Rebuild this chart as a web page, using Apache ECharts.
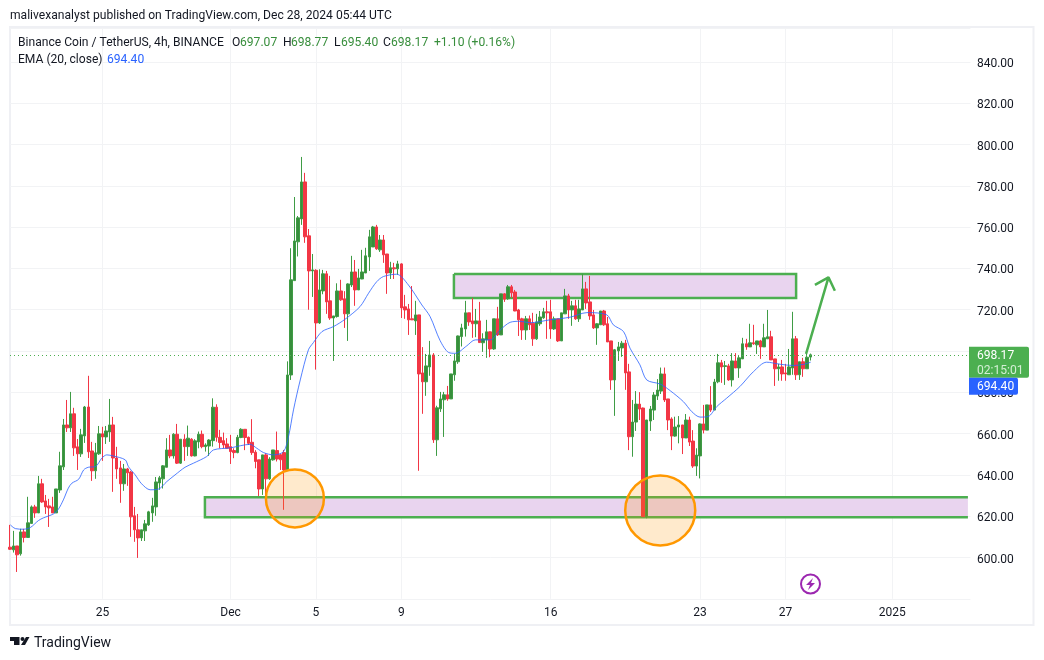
<!DOCTYPE html>
<html><head><meta charset="utf-8">
<script src="https://cdn.jsdelivr.net/npm/echarts@6/dist/echarts.min.js"></script>
<style>html,body{margin:0;padding:0;background:#fff}#c{width:1044px;height:660px}</style>
</head><body><div id="c"></div>
<script>
const opens=[605,
603.7,605.6,601.8,612.4,609.7,616.5,624.5,621.6,635.7,627.4,
625,624.5,621.6,632.7,643.9,664.2,662.8,669.6,653.6,650.2,
658.9,672.9,651.6,642,650.2,659.9,658.4,660.8,664.2,648.2,
643.4,635.7,642.9,641.4,620.2,613.4,609.5,612.9,615.8,621.6,
624.5,636.1,638.1,643.7,652.1,649.2,659.7,645.7,657.3,653.7,
657.3,649.2,656,659.7,653.7,654,656.6,672.8,658.2,656.6,
655,653.7,651.8,650.8,658.1,662.1,658.2,655.8,651,647.3,
633.2,649.7,638.1,647.3,651.8,649.8,650.8,642.4,688.4,734.1,
752.9,764,781.9,755.8,738.8,739.1,713.6,729.1,737.4,724.3,
716,716.7,729.1,725.3,718,732,738.3,729.6,734.9,737.8,
745.6,750.4,760.1,749,753.8,747,737.8,740.3,739.8,742.2,
721.4,720.4,715.6,714.6,717.5,689.4,685.1,692.3,698.1,657,
672,676.4,678.8,676.8,688.5,694.8,707,710.7,718.5,714.6,
713.2,714.6,704,705.4,709.3,701,715.6,707.8,727.7,725.3,
731.1,728.6,719.9,715.6,710.2,715.6,713.5,705.9,713.2,716.1,
719,719,710.7,715.6,704.9,718,726.7,719.9,721.9,715.6,
719.9,730.1,723.8,717.5,711.2,712.7,719.4,713.2,704.9,686,
700.1,701.5,703.8,689.9,658.5,665.6,674.3,672.4,619.8,666.1,
671.4,678.2,680.6,688.9,676.8,667.1,658.8,663.2,664.2,657.9,
666.6,656.4,644.3,649.2,664.7,661.7,673.9,671.4,685.1,694.3,
692.5,692.8,686,695.2,691.8,696.2,703.5,702,704,703,
704.9,702,705.9,706.9,696.2,691.4,692.3,689.4,688.5,691.8,
705.9,688.5,694.8,691.4,697.07];
const closes=[604,
605.6,601.3,612.4,609.7,616.8,624.5,621.6,635.7,626.9,624.5,
624,621.6,633.2,644.4,664.2,662.8,669.6,653.1,650.2,659.4,
672.9,651.2,642,650.7,659.9,658.4,661.3,664.2,648.2,642.9,
635.7,642.9,641,619.7,613.4,609.5,613.4,616.3,622.1,625,
636.6,638.6,644.4,652.1,649.2,659.7,645.7,657.3,653.7,657.8,
649.2,656.5,659.7,653.7,654.5,656.9,672.8,658.2,655.7,654.5,
652.9,651.3,650.8,658.2,662.1,658.1,655.3,650.8,646.5,633.2,
649.7,638.1,647.7,652.1,647.7,647.3,642.4,688.4,734.5,753.3,
764.5,781.9,755.3,738.8,739.3,713.6,729.6,737.4,723.8,716,
717,729.1,724.8,718,732.5,738.3,729.6,735.4,738.3,746.1,
755.3,760.1,749.5,753.8,746.6,737.8,740.3,739.8,742.2,720.9,
719.9,715.1,715.1,717.5,688.9,685.1,692.8,698.1,657,672.5,
676.8,678.8,676.8,688.9,695.2,707.3,711.2,718.5,714.1,713.2,
714.6,704.1,705.9,709.3,701,715.6,707.8,727.7,725.1,731.1,
728.2,719.4,715.1,710.2,715.6,712.7,705.9,714.1,716.5,719,
718.5,710.7,715.6,704.9,718.5,726.7,719.9,721.9,715.6,720.4,
730.1,723.3,717,711.2,713.2,719.4,712.7,704.4,686,700.6,
702,703.8,689.4,658.5,665.6,674.3,671.9,619.8,666.6,671.9,
678.7,681.1,688.9,676.3,666.6,658.8,663.2,664.2,657.9,666.6,
655.9,644.3,649.6,664.7,661.7,673.9,671.4,685,694.3,692.3,
692.9,686,695.2,691.8,696.7,703.5,702,704,703.5,704.9,
702,706.4,706.9,695.7,691.4,692.3,688.9,688.9,692.3,705.9,
688.5,694.8,691.4,697,698.17];
const lows=[603.7,
602.4,593,600.9,607.3,609.7,616.5,619.2,621.6,626.5,621.1,
614.8,621.6,621.6,631.3,642.4,660.8,660.8,649.2,642.4,648.7,
655.5,648.2,637.1,638.1,649.7,646.8,655,656,631.8,638.1,
626.5,632.3,634.7,610,607.6,599.8,608,608,615.3,617.3,
620.2,632.8,633.4,643.7,648.1,647.9,645.3,645.3,646.8,649.2,
648.9,649,652.9,652.9,651.3,649.2,653.7,656.1,652.9,652.9,
652.9,645.3,648.1,650.5,657.8,652,654.5,649.7,643.2,629.8,
630.3,627.9,637.6,646.9,646.5,642.4,623.1,642.4,686,734.1,
745.8,761.1,752.4,720,726.2,691,713.1,727.5,718,715.1,
695.2,716.2,724.3,711.2,704.9,731,721.9,729.6,734.8,737.8,
738.8,750.4,749,748,742.7,727.7,734.9,734.9,736.9,716,
715.6,707.8,715,707.8,642,669.6,678.3,688,655.5,649.2,
670.5,658.4,675.9,676.8,685.6,693.8,702.2,707,712.2,706.4,
706.7,704.1,699.6,696.7,697,700.6,707.3,707.8,723.8,724.8,
725.7,719.3,707.3,705.4,705.4,710.2,702.5,705.4,712.2,715.6,
705.9,705.9,710.2,704.4,704.9,718,715.6,712.2,715.1,714.1,
719.9,720.4,715.1,710.7,703,712.7,712.2,704.4,681.2,668.6,
695.2,697.2,681.2,652,648.8,661.3,666.6,619.8,619,661.3,
666.6,676.3,679.2,675.3,661.7,652,658.5,655.3,650.1,657.9,
654,643.4,639.5,638.3,660.1,661.7,670.5,671.4,684.4,684.6,
683.6,685.6,682.8,691.8,687,696.2,700.6,702,703,698.6,
696.2,702,705.9,695.7,683.1,685.6,685.6,685.6,688.5,688.5,
686,686,687.5,691.4,695.4];
const highs=[615.8,
612.9,605.6,613.9,613.9,629.4,625.2,625.5,639.5,638.1,630.3,
628.4,629.4,633.2,651.2,667.1,676.3,680.2,672.5,657.4,662.3,
673.4,688,656,655.5,663.7,663.3,663.7,676.8,668.1,653.6,
646.8,645.3,643.4,642,624.5,621.1,613.4,618.2,622.6,628.9,
639,639.5,644.8,657.8,659.4,660.2,664.7,657.3,659.7,663.9,
657.8,657.3,661,661.5,655.3,657.3,677.1,674.2,661.8,660.5,
657.8,659.4,652.9,659.4,662.6,662.1,658.6,667,652,647.3,
649.7,650.5,648.6,652.1,661,650.2,652.1,695,749.8,774.6,
765.4,794,786.3,759.1,747,739.6,739.6,739.3,738.8,736.4,
717,732.8,734.5,729,732.8,746.1,744.1,739.8,749,750,
758.7,760.6,761.1,756.2,756.2,747,743.2,742.7,743.7,742.5,
727.2,722.8,731.5,724.3,717.5,701.9,698.6,704.9,699,673.5,
680.2,680.2,683.1,688.9,698.6,707.5,713.2,724.3,718.5,725.7,
720.4,723.8,708.6,715.1,709.4,715.6,721.4,727.7,728,732,
732,729.6,720.4,716.1,717,717.2,718.5,718,719.4,720.9,
724.3,724.8,716.7,715.6,718.5,730.1,727.7,724.3,724.8,724.8,
737.4,733.5,736.4,719.9,713.5,719.4,719.9,716.5,704.9,701,
704.4,704.9,705.4,693.8,676.3,680.6,680.1,672.6,666.6,673.4,
680.1,686.4,692,692,676.8,667.9,668.2,668.5,664.2,669.5,
668.2,661.7,652.9,665,673.9,673.9,683,686.5,698.6,695.7,
695.2,693.8,699,699,698.1,706.4,705.9,713.2,712.7,704.9,
705.4,713.2,719.9,709.8,696.2,693.8,695.7,693.8,701,719,
707.3,694.8,696.7,699,698.77];

const emaSlots=[0.1,1.5,3.8,5.7,8,9.4,12.2,13.6,15,16.4,17.4,19.3,20.7,22,24,25.8,27.2,29,32.4,33.3,35.2,37,39.4,41.7,44.1,46.4,49.2,51.6,55.3,57.2,61.9,67.5,69.4,71.3,74.1,76.9,78.3,79.7,81.6,83.9,85.3,87.7,91,94.2,98.4,100.8,103.1,105,108.7,112,115.8,118.1,120.9,123.3,125.2,128.4,130.8,135,137.8,140.6,143.4,146.2,151.8,157.5,162.2,167.8,169.6,172.5,174.3,177.1,179,182.8,185.6,189.3,191.7,194,196.3,198.7,201.5,205.2,209,212.7,216.5,220.2,223,225.1];
const emaValues=[615.8,614,613.7,614.5,617.9,619.2,621.1,623.4,627.9,633.6,636,637.9,642.4,643.7,644,648.1,649.7,649.2,647.3,644,640,635.7,632.8,633.1,636.8,640,643.7,645.7,648.9,652.1,653.1,654.8,652.9,650.8,649.7,651.3,658.6,671.5,686,700.6,704.1,709.4,711.9,715.4,721.5,728,733.6,736.1,737.2,732,722.3,716.7,705.1,699.3,698.9,702.5,705.4,705.4,710.2,713.9,714.4,713.7,715.1,716.4,718.6,717.5,712.7,709.4,701.4,693.3,686,684,680.8,675.5,670.6,668,668.3,673.1,677.2,682.8,690,694.6,693.6,693,693.5,694.6];

const tickSlots=[26,62,86,110,152,194,218,248];
const tickLabels=['25','Dec','5','9','16','23','27','2025'];
const priceTicksInterval=20;

// drawings, in slot / price terms
const zoneStarts=[124.8,54.8], zoneEnds=[221,269.3], zoneHighs=[737.3,629.2], zoneLows=[725.7,619.5], zoneOpenRight=[false,true];
const circleSlots=[80.1,182.8], circlePrices=[628.6,622.8], circleRadii=[8.15,9.84];
const arrowSlots=[223.8,230.1,226.3,230.1,231.9], arrowPrices=[698.6,735.7,732,735.7,729.2];
const lastPrice=698.17;

const SLOT_COUNT=271;
const startMs=Date.UTC(2024,10,20,16);
const categories=Array.from({length:SLOT_COUNT},(_,i)=>new Date(startMs+i*4*3600e3).toISOString().slice(0,16));
const slotLabel={}; tickSlots.forEach((s,i)=>slotLabel[s]=tickLabels[i]);
const isTick=i=>slotLabel[i]!==undefined;

const candles=opens.map((o,i)=>[o,closes[i],lows[i],highs[i]]);
const GRID='#f2f3f5', UP='#388e3c', UPB='#3f9c45', DOWN='#f23645', DRAW='#4caf50';
const FONT='Roboto, "Open Sans", sans-serif';
const TXT='#131722';

const chart=echarts.init(document.getElementById('c'));
const txt=(x,y,t,fill,extra)=>({type:'text',z:100,silent:true,style:Object.assign({x,y:y+1.3,text:t,fill,font:'12.1px '+FONT,verticalAlign:'middle'},extra||{})});
chart.setOption({
  animation:false,
  backgroundColor:'#fff',
  grid:{left:10,top:27.9,width:960.4,height:570.9,containLabel:false},
  xAxis:[
    {type:'category',data:categories,boundaryGap:false,
     axisLine:{show:false},axisTick:{show:false},
     axisLabel:{interval:(i)=>isTick(i),formatter:(v,i)=>slotLabel[i]||'',color:TXT,fontFamily:FONT,fontSize:12,margin:8,hideOverlap:false},
     splitLine:{show:true,interval:(i)=>isTick(i),lineStyle:{color:GRID,width:1}}},
    {type:'value',min:0,max:SLOT_COUNT-1,show:false,splitLine:{show:false}}
  ],
  yAxis:{type:'value',position:'right',min:580,max:856.5,interval:priceTicksInterval,
    axisLine:{show:false},axisTick:{show:false},
    axisLabel:{formatter:v=>v.toFixed(2),color:TXT,fontFamily:FONT,fontSize:12,margin:6.5,verticalAlign:'top',lineHeight:4,showMinLabel:false,showMaxLabel:false},
    splitLine:{show:true,lineStyle:{color:GRID,width:1}}},
  series:[
    {type:'custom',name:'zones',xAxisIndex:1,yAxisIndex:0,z:1,clip:true,silent:true,
     data:zoneStarts.map((s,i)=>[s,zoneHighs[i]]),encode:{x:0,y:1},
     renderItem:(p,api)=>{const i=p.dataIndex,a=api.coord([zoneStarts[i],zoneHighs[i]]),b=api.coord([zoneEnds[i],zoneLows[i]]);
       const outline=zoneOpenRight[i]
         ?[[b[0],a[1]],[a[0],a[1]],[a[0],b[1]],[b[0],b[1]]]
         :[[a[0],a[1]],[b[0],a[1]],[b[0],b[1]],[a[0],b[1]],[a[0],a[1]]];
       return {type:'group',children:[
         {type:'rect',shape:{x:a[0],y:a[1],width:b[0]-a[0],height:b[1]-a[1]},style:{fill:'#e9d4ef',stroke:null}},
         {type:'polyline',shape:{points:outline},style:{fill:'none',stroke:DRAW,lineWidth:2.5,lineJoin:'miter'}}
       ]};}},
    {type:'candlestick',name:'BNBUSDT',xAxisIndex:0,yAxisIndex:0,z:2,data:candles,barWidth:3,silent:true,
     itemStyle:{color:UP,color0:DOWN,borderColor:UPB,borderColor0:DOWN,borderWidth:1},
     markLine:{silent:true,symbol:'none',label:{show:false},animation:false,
       lineStyle:{color:DRAW,type:[1,3],width:1},data:[{yAxis:lastPrice}]}},
    {type:'line',name:'EMA (20, close)',xAxisIndex:1,yAxisIndex:0,z:3,silent:true,showSymbol:false,smooth:0.3,
     data:emaSlots.map((s,i)=>[s,emaValues[i]]),lineStyle:{color:'#2962ff',width:1,opacity:0.8}},
    {type:'custom',name:'circles',xAxisIndex:1,yAxisIndex:0,z:4,clip:false,silent:true,
     data:circleSlots.map((s,i)=>[s,circlePrices[i]]),encode:{x:0,y:1},
     renderItem:(p,api)=>{const i=p.dataIndex,c=api.coord([circleSlots[i],circlePrices[i]]),r=api.size([circleRadii[i],0])[0];
       return {type:'circle',shape:{cx:c[0],cy:c[1],r},style:{fill:'rgba(255,152,0,0.2)',stroke:'#ff9800',lineWidth:2.5}};}},
    {type:'line',name:'arrow',xAxisIndex:1,yAxisIndex:0,z:5,silent:true,showSymbol:false,
     data:arrowSlots.map((s,i)=>[s,arrowPrices[i]]),lineStyle:{color:DRAW,width:2.5}}
  ],
  graphic:[
    {type:'rect',z:-1,silent:true,shape:{x:10,y:27,width:1023.5,height:598},style:{fill:'none',stroke:'#eff0f4',lineWidth:2}},
    txt(10,14.5,'malivexanalyst published on TradingView.com, Dec 28, 2024 05:44 UTC',TXT),
    txt(18,42,'Binance Coin / TetherUS, 4h, BINANCE',TXT),
    txt(232,42,'O',TXT),txt(240,42,'697.07',UP),
    txt(283,42,'H',TXT),txt(291,42,'698.77',UP),
    txt(334,42,'L',TXT),txt(341,42,'695.40',UP),
    txt(383,42,'C',TXT),txt(391,42,'698.17',UP),
    txt(434,42,'+1.10 (+0.16%)',UP),
    txt(18,59,'EMA (20, close)',TXT),
    txt(107,59,'694.40','#2962ff'),
    // price tags
    {type:'rect',z:100,silent:true,shape:{x:969,y:346.7,width:60,height:31,r:[0,2,2,0]},style:{fill:DRAW}},
    txt(977,355,'698.17','#fff'),
    txt(977,370,'02:15:01','#d3efd4'),
    {type:'rect',z:100,silent:true,shape:{x:969,y:377.7,width:49,height:17,r:[0,2,2,0]},style:{fill:'#2962ff'}},
    txt(977,385.5,'694.40','#fff'),
    // lightning badge
    {type:'circle',z:100,silent:true,shape:{cx:810.5,cy:584,r:9.5},style:{fill:'#fff',stroke:'#9c27b0',lineWidth:2}},
    {type:'polygon',z:100,silent:true,shape:{points:[[813,578],[806,585],[810,585],[808,590],[815,583],[811,583]]},style:{fill:'#9c27b0'}},
    // TradingView logo
    {type:'polygon',z:100,silent:true,shape:{points:[[10,637],[19.5,637],[19.5,645],[14,645],[14,641],[10,641]]},style:{fill:TXT}},
    {type:'circle',z:100,silent:true,shape:{cx:22.5,cy:639,r:2},style:{fill:TXT}},
    {type:'polygon',z:100,silent:true,shape:{points:[[26,637],[29.5,637],[25,645],[21,645]]},style:{fill:TXT}},
    txt(34,642,'TradingView',TXT,{font:'14px '+FONT})
  ]
});
</script></body></html>
